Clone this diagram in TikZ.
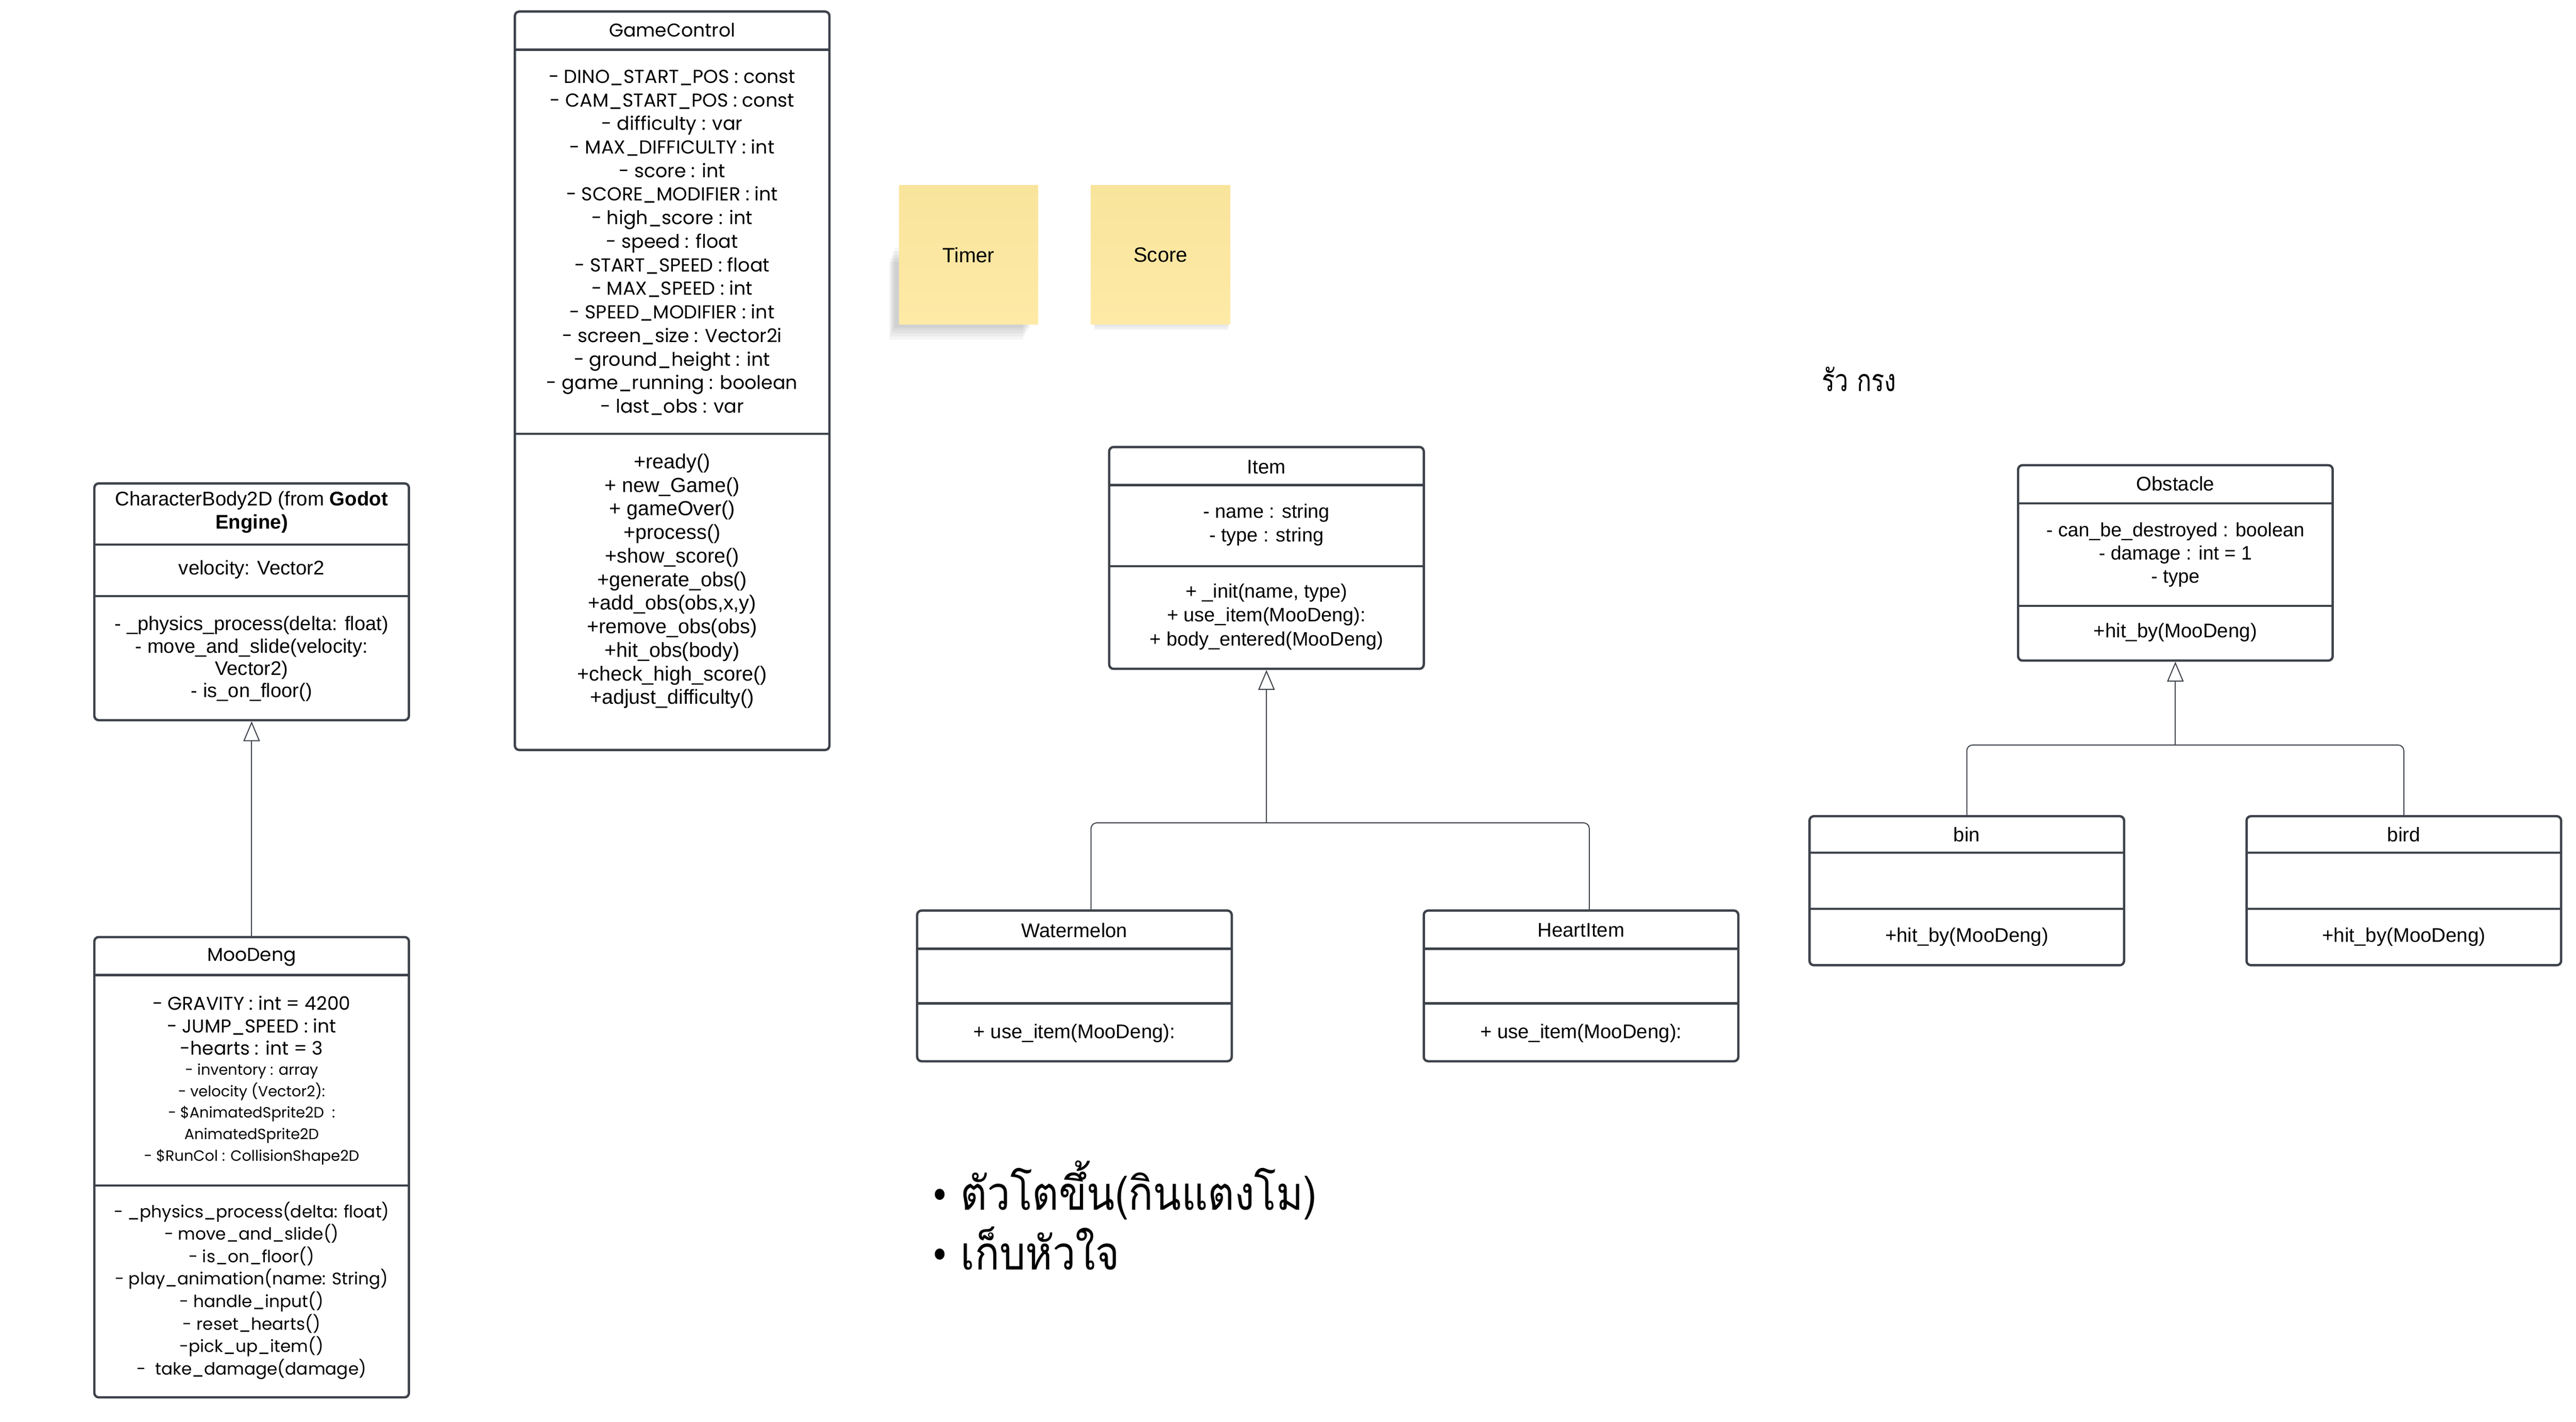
\documentclass[tikz,border=0pt]{standalone}
\usepackage{graphicx}
\usepackage{fontspec}
\setmainfont{Liberation Sans}
\newfontfamily\popfont{Poppins}
\newfontfamily\dotfont{Liberation Serif}
\newfontfamily\thaifont[Script=Thai]{Loma}
\usetikzlibrary{arrows.meta,fit}

\definecolor{umlline}{RGB}{61,66,74}
\definecolor{stickyfill}{RGB}{254,234,166}
\definecolor{stickytop}{RGB}{249,228,156}

\tikzset{
  classbox/.style={draw=umlline, line width=0.8pt, rounded corners=1.5pt, inner sep=0pt},
  rule/.style={draw=umlline, line width=0.8pt},
  inter/.style={font=\fontsize{6.8}{8}\selectfont, align=center, inner sep=0pt},
  geo/.style={font=\popfont\fontsize{6.4}{8}\selectfont, align=center, inner sep=0pt},
  geosmall/.style={font=\popfont\fontsize{5.1}{7.4}\selectfont, align=center, inner sep=0pt},
  link/.style={draw=umlline, line width=0.35pt, rounded corners=2pt},
  inherit/.style={draw=umlline, line width=0.35pt, -{Triangle[open, length=0.24cm, width=0.2cm]}},
  sticky/.style={minimum width=1.68cm, minimum height=1.68cm, inner sep=0pt, top color=stickytop, bottom color=stickyfill, font=\fontsize{7.1}{8}\selectfont},
  thaitext/.style={font=\thaifont, inner sep=0pt, align=left},
}

% box of a class with its two rules
\newcommand{\umlclass}[7]{%
  \node[classbox, fit={(#2,#3) (#4,#5)}] (#1) {};
  \draw[rule] (#2,#6) -- (#4,#6);
  \draw[rule] (#2,#7) -- (#4,#7);
}

\begin{document}
\begin{tikzpicture}[x=0.02cm, y=-0.02cm]
\useasboundingbox (0,0) rectangle (1556,858.9);

% CharacterBody2D
\umlclass{cb}{57}{292}{247}{435}{329}{360}
\node[inter] (cb-title) at (152,309.5) {CharacterBody2D (from \textbf{Godot}\\\textbf{Engine)}};
\node[inter] (cb-attr) at (152,344) {velocity: Vector2};
\node[inter, font=\fontsize{6.75}{7.7}\selectfont] (cb-ops) at (152,398) {- \_physics\_process(delta: float)\\- move\_and\_slide(velocity:\\Vector2)\\- is\_on\_floor()};

% MooDeng
\umlclass{md}{57}{566}{247}{844}{589}{716}
\node[geo] (md-title) at (152,578) {MooDeng};
\node[geo, font=\popfont\fontsize{6.4}{7.7}\selectfont] (md-attr) at (152,619.5) {- GRAVITY : int = 4200\\- JUMP\_SPEED : int\\-hearts : int = 3};
\node[geosmall] (md-attr2) at (152,673) {- inventory : array\\- velocity (Vector2):\\- \$AnimatedSprite2D\ \ :\\AnimatedSprite2D\\- \$RunCol : CollisionShape2D};
\node[geo, font=\popfont\fontsize{5.8}{7.72}\selectfont] (md-ops) at (152,779.5) {- \_physics\_process(delta: float)\\- move\_and\_slide()\\- is\_on\_floor()\\- play\_animation(name: String)\\- handle\_input()\\- reset\_hearts()\\-pick\_up\_item()\\-\ \ take\_damage(damage)};

\draw[inherit] (md.north) -- (cb.south);

% GameControl
\umlclass{gc}{311}{7}{501}{453}{30}{262}
\node[geo] (gc-title) at (406,18) {GameControl};
\node[geo, font=\popfont\fontsize{6.45}{8.1}\selectfont] (gc-attr) at (406,146.5) {- DINO\_START\_POS : const\\- CAM\_START\_POS : const\\- difficulty : var\\- MAX\_DIFFICULTY : int\\- score : int\\- SCORE\_MODIFIER : int\\- high\_score : int\\- speed : float\\- START\_SPEED : float\\- MAX\_SPEED : int\\- SPEED\_MODIFIER : int\\- screen\_size : Vector2i\\- ground\_height : int\\- game\_running : boolean\\- last\_obs : var};
\node[inter, font=\fontsize{7}{8.1}\selectfont] (gc-ops) at (406,351) {+ready()\\+ new\_Game()\\+ gameOver()\\+process()\\+show\_score()\\+generate\_obs()\\+add\_obs(obs,x,y)\\+remove\_obs(obs)\\+hit\_obs(body)\\+check\_high\_score()\\+adjust\_difficulty()};

% sticky notes
\foreach \s in {1,...,5}
  \fill[black, opacity=0.04] (541-\s*0.8,148+\s*2) rectangle (623-\s,196+\s*1.8);
\foreach \s in {1,...,3}
  \fill[black, opacity=0.03] (661,190) rectangle (742,196+\s*1.2);
\node[sticky] (timer) at (585,154) {Timer};
\node[sticky] (score) at (701,154) {Score};

\node[thaitext] (fence) at (1123,229) {\fontsize{10.5}{12}\selectfont\scalebox{0.79}[1]{รัว กรง}};

% Item and its children
\umlclass{item}{670}{270}{860}{404}{293}{342}
\node[inter] (item-title) at (765,282) {Item};
\node[inter, font=\fontsize{6.7}{8.2}\selectfont] (item-attr) at (765,317) {- name : string\\- type : string};
\node[inter, font=\fontsize{6.7}{8.2}\selectfont] (item-ops) at (765,372.5) {+ \_init(name, type)\\+ use\_item(MooDeng):\\+ body\_entered(MooDeng)};

\umlclass{wm}{554}{550}{744}{641}{573}{606}
\node[inter] (wm-title) at (649,562) {Watermelon};
\node[inter] (wm-ops) at (649,624) {+ use\_item(MooDeng):};

\umlclass{hi}{860}{550}{1050}{641}{573}{606}
\node[inter] (hi-title) at (955,562) {HeartItem};
\node[inter] (hi-ops) at (955,624) {+ use\_item(MooDeng):};

\coordinate (itemjoin) at (765,497);
\coordinate (wmjoin) at (659,497);
\coordinate (hijoin) at (960,497);
\draw[inherit] (itemjoin) -- (item.south);
\draw[link] (wmjoin |- wm.north) |- (itemjoin);
\draw[link] (hijoin |- hi.north) |- (itemjoin);

% Obstacle and its children
\umlclass{obs}{1219}{281}{1409}{399}{304}{366}
\node[inter] (obs-title) at (1314,292) {Obstacle};
\node[inter, font=\fontsize{6.66}{8}\selectfont] (obs-attr) at (1314,335) {- can\_be\_destroyed : boolean\\- damage : int = 1\\- type};
\node[inter] (obs-ops) at (1314,382) {+hit\_by(MooDeng)};

\umlclass{bin}{1093}{493}{1283}{583}{515}{549}
\node[inter] (bin-title) at (1188,504) {bin};
\node[inter] (bin-ops) at (1188,566) {+hit\_by(MooDeng)};

\umlclass{bird}{1357}{493}{1547}{583}{515}{549}
\node[inter] (bird-title) at (1452,504) {bird};
\node[inter] (bird-ops) at (1452,566) {+hit\_by(MooDeng)};

\coordinate (obsjoin) at (1314,450);
\draw[inherit] (obsjoin) -- (obs.south);
\draw[link] (bin.north) |- (obsjoin);
\draw[link] (bird.north) |- (obsjoin);

% notes in Thai
\node[thaitext, anchor=west] (grow) at (563,719) {\fontsize{16}{20}\selectfont\scalebox{0.88}[1]{{\dotfont •} ตัวโตขึ้น(กินแตงโม)}};
\node[thaitext, anchor=west] (hearts) at (563,754) {\fontsize{16}{20}\selectfont\scalebox{0.88}[1]{{\dotfont •} เก็บหัวใจ}};
\end{tikzpicture}
\end{document}
